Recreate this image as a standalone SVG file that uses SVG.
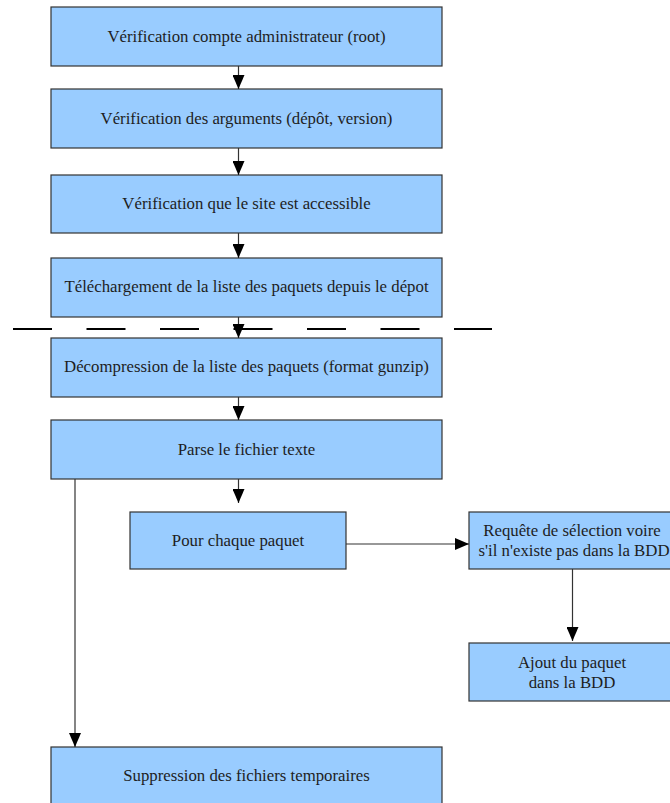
<svg xmlns="http://www.w3.org/2000/svg" width="670" height="803" viewBox="0 0 670 803">
<defs>
<marker id="ah" viewBox="0 0 14 12" refX="14" refY="6" markerWidth="14" markerHeight="12" markerUnits="userSpaceOnUse" orient="auto">
<path d="M0,0 L14,6 L0,12 z" fill="#000"/>
</marker>
<style>
.box{fill:#99ccff;stroke:#333;stroke-width:1.2}
.t{font-family:'Liberation Serif','DejaVu Serif',serif;font-size:16.8px;fill:#1e1e1e;text-anchor:middle}
.c{fill:none;stroke:#333;stroke-width:1.2;marker-end:url(#ah)}
.dash{stroke:#000;stroke-width:2;stroke-dasharray:39 34.5}
</style>
</defs>
<rect width="670" height="803" fill="#fff"/>
<g id="n1"><rect class="box" x="51" y="7" width="391" height="59"/><text class="t" x="246.5" y="42">Vérification compte administrateur (root)</text></g>
<g id="n2"><rect class="box" x="51" y="89" width="391" height="59"/><text class="t" x="246.5" y="124">Vérification des arguments (dépôt, version)</text></g>
<g id="n3"><rect class="box" x="51" y="175" width="391" height="58"/><text class="t" x="246.5" y="209">Vérification que le site est accessible</text></g>
<g id="n4"><rect class="box" x="51" y="258" width="391" height="59"/><text class="t" x="246.5" y="292">Téléchargement de la liste des paquets depuis le dépot</text></g>
<g id="n5"><rect class="box" x="51" y="338" width="391" height="59"/><text class="t" x="246.5" y="372">Décompression de la liste des paquets (format gunzip)</text></g>
<g id="n6"><rect class="box" x="51" y="420" width="391" height="59"/><text class="t" x="246.5" y="455">Parse le fichier texte</text></g>
<g id="n7"><rect class="box" x="130" y="512" width="216" height="57"/><text class="t" x="238" y="546">Pour chaque paquet</text></g>
<g id="n8"><rect class="box" x="469" y="512" width="207" height="57"/><text class="t" x="572" y="536">Requête de sélection voire</text><text class="t" x="574" y="556">s'il n'existe pas dans la BDD</text></g>
<g id="n9"><rect class="box" x="469" y="643" width="207" height="58"/><text class="t" x="572" y="668">Ajout du paquet</text><text class="t" x="572" y="688">dans la BDD</text></g>
<g id="n10"><rect class="box" x="51" y="747" width="391" height="70"/><text class="t" x="246.5" y="781">Suppression des fichiers temporaires</text></g>
<line class="dash" x1="13" y1="329" x2="492" y2="329"/>
<g id="connectors">
<line class="c" x1="238.5" y1="66" x2="238.5" y2="89"/>
<line class="c" x1="238.5" y1="148" x2="238.5" y2="175"/>
<line class="c" x1="238.5" y1="233" x2="238.5" y2="258"/>
<line class="c" x1="238.5" y1="317" x2="238.5" y2="338"/>
<line class="c" x1="238.5" y1="397" x2="238.5" y2="420"/>
<line class="c" x1="238.5" y1="479" x2="238.5" y2="503"/>
<line class="c" x1="346" y1="544" x2="469" y2="544"/>
<line class="c" x1="572.5" y1="569" x2="572.5" y2="641"/>
<line class="c" x1="75" y1="479" x2="75" y2="747"/>
</g>
</svg>
